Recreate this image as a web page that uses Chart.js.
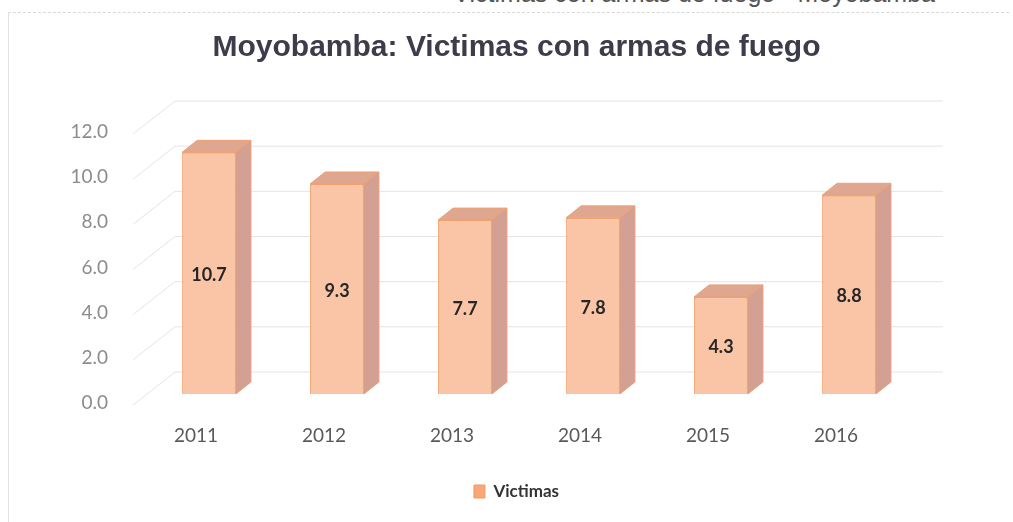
<!DOCTYPE html>
<html>
<head>
<meta charset="utf-8">
<script src="https://cdn.jsdelivr.net/npm/chart.js@4/dist/chart.umd.min.js"></script>
<style>
  html,body{margin:0;padding:0;background:#fff;}
  body{width:1013px;height:522px;position:relative;overflow:hidden;}
  #frame{position:absolute;left:8px;top:12px;width:1000px;height:520px;border-left:1px solid #e2e2e2;border-top:1px dashed #d8d8d8;}
  #cut{position:absolute;right:78px;top:-21px;font-family:"Liberation Sans",Arial,sans-serif;font-size:25px;color:#555;white-space:nowrap;}
  #wrap{position:absolute;left:0;top:0;width:1013px;height:522px;}
</style>
</head>
<body>
<div id="cut">Victimas con armas de fuego - Moyobamba</div>
<div id="frame"></div>
<div id="wrap"><canvas id="c" width="1013" height="522"></canvas></div>
<script>
const categories = ["2011", "2012", "2013", "2014", "2015", "2016"];
const victimas = [10.7, 9.3, 7.7, 7.8, 4.3, 8.8];
const yTicks = [0, 2, 4, 6, 8, 10, 12];
const titleText = "Moyobamba: Victimas con armas de fuego";
const seriesName = "Victimas";

const DEPTH_X = 15, DEPTH_Y = 12;   // bar extrusion
const BACK_X = 30, BACK_Y = 22;     // back wall offset for gridlines

const threeD = {
  id: 'threeD',
  beforeDatasetsDraw(chart) {
    const ctx = chart.ctx;
    const ys = chart.scales.y, area = chart.chartArea;
    ctx.save();
    ctx.strokeStyle = '#e4e4e8';
    ctx.lineWidth = 1;
    yTicks.forEach(v => {
      const fy = ys.getPixelForValue(v);
      ctx.beginPath();
      ctx.moveTo(area.left + BACK_X, fy - BACK_Y);
      ctx.lineTo(area.right + BACK_X, fy - BACK_Y);
      ctx.stroke();
      ctx.beginPath();
      ctx.moveTo(area.left - 12, fy + 11);
      ctx.lineTo(area.left + BACK_X, fy - BACK_Y);
      ctx.stroke();
    });
    const meta = chart.getDatasetMeta(0);
    meta.data.forEach(bar => {
      const p = bar.getProps(['x', 'y', 'base', 'width'], true);
      const l = p.x - p.width / 2, r = p.x + p.width / 2;
      ctx.beginPath();
      ctx.moveTo(r, p.y);
      ctx.lineTo(r + DEPTH_X, p.y - DEPTH_Y);
      ctx.lineTo(r + DEPTH_X, p.base - DEPTH_Y);
      ctx.lineTo(r, p.base);
      ctx.closePath();
      ctx.fillStyle = '#d3a193';
      ctx.fill();
      ctx.strokeStyle = '#e99a72';
      ctx.stroke();
      ctx.beginPath();
      ctx.moveTo(l, p.y);
      ctx.lineTo(l + DEPTH_X, p.y - DEPTH_Y);
      ctx.lineTo(r + DEPTH_X, p.y - DEPTH_Y);
      ctx.lineTo(r, p.y);
      ctx.closePath();
      ctx.fillStyle = '#dfa690';
      ctx.fill();
      ctx.strokeStyle = '#ee9f73';
      ctx.stroke();
    });
    ctx.restore();
  },
  afterDatasetsDraw(chart) {
    const ctx = chart.ctx;
    const meta = chart.getDatasetMeta(0);
    ctx.save();
    ctx.font = 'bold 18px Lato, "Open Sans", sans-serif';
    ctx.fillStyle = '#262626';
    ctx.textAlign = 'center';
    ctx.textBaseline = 'middle';
    meta.data.forEach((bar, i) => {
      const p = bar.getProps(['x', 'y', 'base'], true);
      ctx.fillText(victimas[i].toFixed(1), p.x, (p.y + p.base) / 2 + 2);
    });
    ctx.restore();
  }
};

new Chart(document.getElementById('c'), {
  type: 'bar',
  data: {
    labels: categories,
    datasets: [{
      label: seriesName,
      data: victimas,
      backgroundColor: '#f9c5a6',
      borderColor: '#f2a06c',
      borderWidth: 1.5,
      barPercentage: 0.42,
      categoryPercentage: 1.0,
      yAxisID: 'y'
    }]
  },
  options: {
    responsive: false,
    animation: false,
    devicePixelRatio: 1,
    layout: { padding: { left: 20, right: 0, top: 0, bottom: 12 } },
    plugins: {
      title: {
        display: true,
        text: titleText,
        color: '#3c3c4a',
        font: { family: '"Liberation Sans", Arial, sans-serif', size: 30, weight: 'bold' },
        padding: { top: 30, bottom: 57 }
      },
      legend: {
        display: true,
        position: 'bottom',
        labels: {
          color: '#333',
          font: { family: 'Lato, "Open Sans", sans-serif', size: 17, weight: 'bold' },
          boxWidth: 11, boxHeight: 13, padding: 10,
          generateLabels: () => [{
            text: seriesName, fillStyle: '#f6a877', strokeStyle: '#f29a62', lineWidth: 1,
            hidden: false, datasetIndex: 0, fontColor: '#333'
          }]
        }
      },
      tooltip: { enabled: false }
    },
    scales: {
      x: {
        grid: { display: false, drawTicks: false },
        border: { display: false },
        ticks: { color: '#595959', font: { family: 'Lato, "Open Sans", sans-serif', size: 19 }, padding: 30, labelOffset: -13 },
        afterFit: s => { s.height = 79; }
      },
      y: {
        min: 0, max: 12,
        grid: { display: false, drawTicks: false },
        border: { display: false },
        afterBuildTicks: s => { s.ticks = yTicks.map(v => ({ value: v })); },
        ticks: {
          color: '#8c8c8c',
          font: { family: 'Lato, "Open Sans", sans-serif', size: 19 },
          padding: 37,
          labelOffset: 9,
          callback: v => Number(v).toFixed(1)
        },
        afterFit: s => { s.width = 125; }
      },
      yRight: {
        position: 'right',
        min: 0, max: 12,
        grid: { display: false, drawTicks: false },
        border: { display: false },
        ticks: { display: false },
        afterFit: s => { s.width = 100; }
      }
    }
  },
  plugins: [threeD]
});
</script>
</body>
</html>
